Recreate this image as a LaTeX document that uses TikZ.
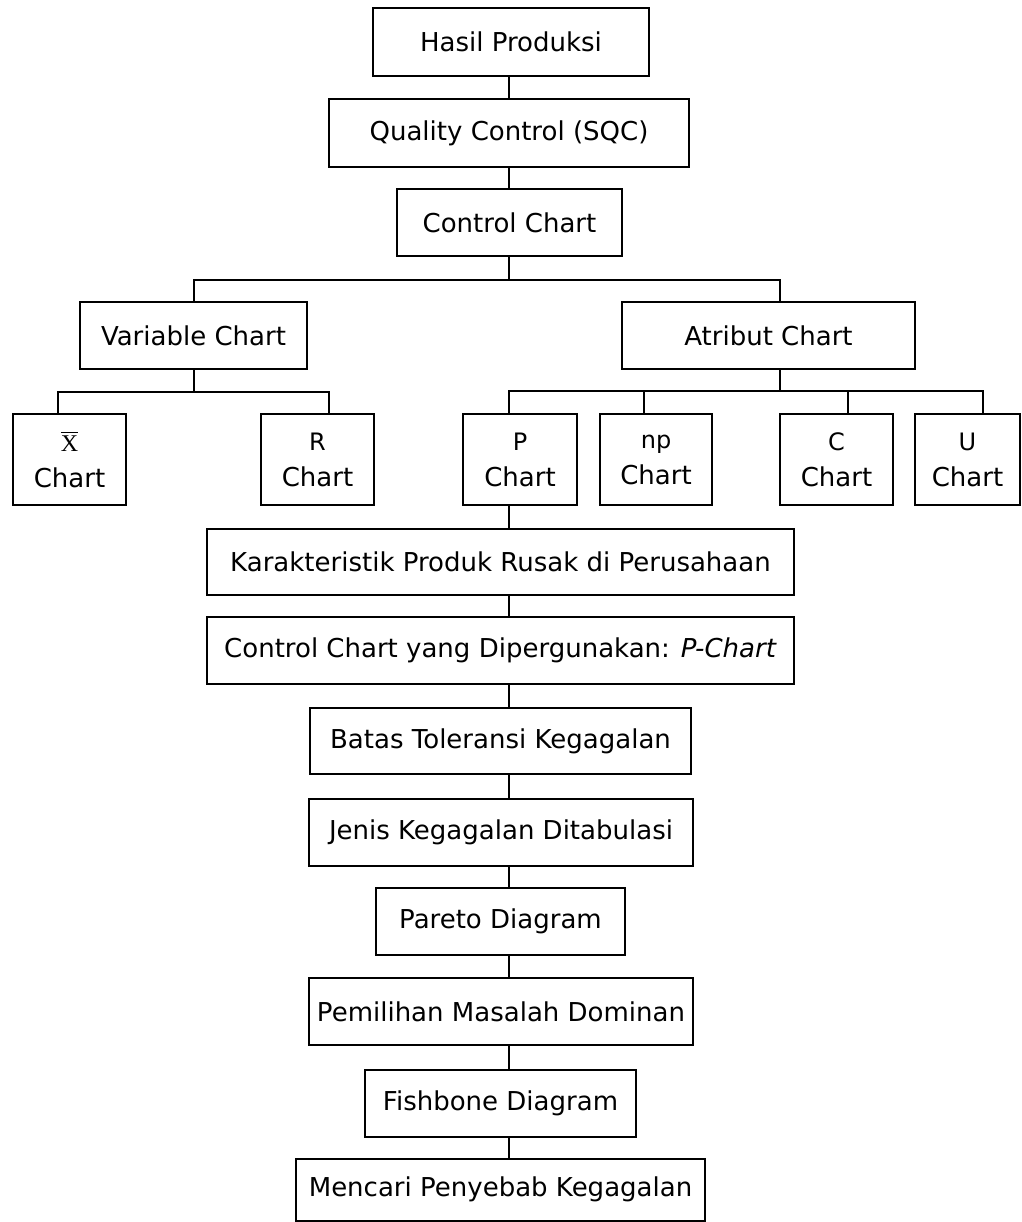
\documentclass[tikz,border=0pt]{standalone}
\usepackage{fontspec}
\setmainfont{DejaVu Sans}
\newfontfamily\serifx{Liberation Serif}
\begin{document}
\begin{tikzpicture}[x=1pt,y=-1pt,
  box/.style={draw,line width=2pt,inner sep=0pt,align=center,font=\fontsize{26}{30}\selectfont},
  kid/.style={box,minimum height=91,font=\fontsize{26}{36}\selectfont},
  conn/.style={line width=2pt}]
\useasboundingbox (0,0) rectangle (1021,1222);
% main chain top
\node[box,minimum width=276,minimum height=68] (hasil) at (511,42) {Hasil Produksi};
\node[box,minimum width=360,minimum height=68] (quality) at (509,133) {Quality Control (SQC)};
\node[box,minimum width=225,minimum height=67] (control) at (509.5,222.5) {Control Chart};
\node[box,minimum width=227,minimum height=67] (variable) at (193.5,335.5) {Variable Chart};
\node[box,minimum width=293,minimum height=67] (atribut) at (768.5,335.5) {Atribut Chart};
% children
\node[kid,minimum width=113] (xbar) at (69.5,459.5) {{\fontsize{24}{24}\selectfont\leavevmode\vbox{\hrule height 1.4pt\kern2.5pt\hbox{\serifx X}}}\\Chart};
\node[kid,minimum width=113] (rchart) at (317.5,459.5) {{\fontsize{24}{24}\selectfont R}\\Chart};
\node[kid,minimum width=114] (pchart) at (520,459.5) {{\fontsize{24}{24}\selectfont P}\\Chart};
\node[kid,minimum width=112] (npchart) at (656,459.5) {{\fontsize{24}{24}\selectfont np}\\Chart};
\node[kid,minimum width=113] (cchart) at (836.5,459.5) {{\fontsize{24}{24}\selectfont C}\\Chart};
\node[kid,minimum width=105] (uchart) at (967.5,459.5) {{\fontsize{24}{24}\selectfont U}\\Chart};
% lower chain
\node[box,minimum width=587,minimum height=66] (karak) at (500.5,562) {Karakteristik Produk Rusak di Perusahaan};
\node[box,minimum width=587,minimum height=67] (ctrlyang) at (500.5,650.5) {Control Chart yang Dipergunakan: \textit{P-Chart}};
\node[box,minimum width=381,minimum height=66] (batas) at (500.5,741) {Batas Toleransi Kegagalan};
\node[box,minimum width=384,minimum height=67] (jenis) at (501,832.5) {Jenis Kegagalan Ditabulasi};
\node[box,minimum width=249,minimum height=67] (pareto) at (500.5,921.5) {Pareto Diagram};
\node[box,minimum width=384,minimum height=67] (pemilihan) at (501,1011.5) {Pemilihan Masalah Dominan};
\node[box,minimum width=271,minimum height=67] (fishbone) at (500.5,1103.5) {Fishbone Diagram};
\node[box,minimum width=409,minimum height=62] (mencari) at (500.5,1189.5) {Mencari Penyebab Kegagalan};
% coordinates
\coordinate (sp) at (509,0);
\coordinate (b1) at (509,280);
\coordinate (b1r) at (780,280);
\coordinate (b2) at (193.5,392);
\coordinate (c2l) at (58,392);
\coordinate (c2r) at (329,392);
\coordinate (b3) at (780,391);
\coordinate (c3p) at (509,391);
\coordinate (c3np) at (644,391);
\coordinate (c3c) at (848,391);
\coordinate (c3u) at (983,391);
% connectors
\draw[conn] (hasil.south -| sp) -- (quality.north -| sp);
\draw[conn] (quality.south -| sp) -- (control.north -| sp);
\draw[conn] (control.south -| sp) -- (b1);
\draw[conn] (variable.north) |- (b1r) -- (atribut.north -| b1r);
\draw[conn] (variable.south) -- (b2);
\draw[conn] (xbar.north -| c2l) -- (c2l) -- (c2r) -- (rchart.north -| c2r);
\draw[conn] (atribut.south -| b3) -- (b3);
\draw[conn] (pchart.north -| c3p) -- (c3p) -- (c3u) -- (uchart.north -| c3u);
\draw[conn] (npchart.north -| c3np) -- (c3np);
\draw[conn] (cchart.north -| c3c) -- (c3c);
\draw[conn] (pchart.south -| sp) -- (karak.north -| sp);
\draw[conn] (karak.south -| sp) -- (ctrlyang.north -| sp);
\draw[conn] (ctrlyang.south -| sp) -- (batas.north -| sp);
\draw[conn] (batas.south -| sp) -- (jenis.north -| sp);
\draw[conn] (jenis.south -| sp) -- (pareto.north -| sp);
\draw[conn] (pareto.south -| sp) -- (pemilihan.north -| sp);
\draw[conn] (pemilihan.south -| sp) -- (fishbone.north -| sp);
\draw[conn] (fishbone.south -| sp) -- (mencari.north -| sp);
\end{tikzpicture}
\end{document}
